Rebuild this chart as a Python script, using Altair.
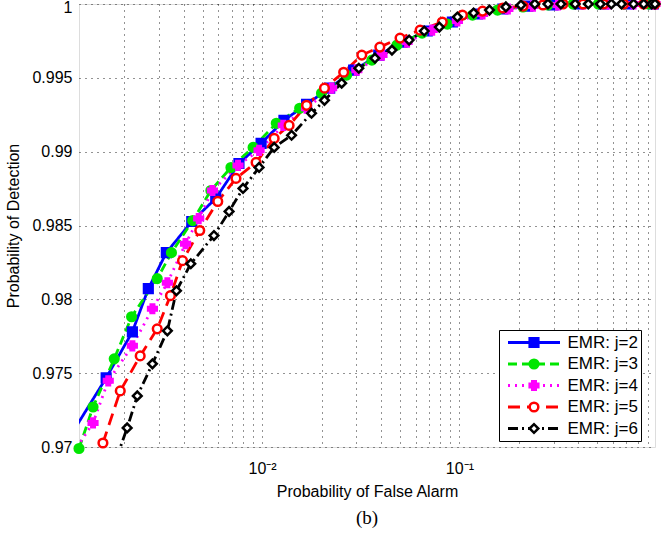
import altair as alt
import pandas as pd

# ---- data ----
SERIES = ["EMR: j=2", "EMR: j=3", "EMR: j=4", "EMR: j=5", "EMR: j=6"]

J2_X = [0.00105, 0.00162, 0.0022, 0.00265, 0.00327, 0.0044, 0.00582, 0.00763, 0.00988, 0.0129,
        0.0168, 0.022, 0.0291, 0.039, 0.0512, 0.0687, 0.0921, 0.1236, 0.166, 0.222,
        0.298, 0.40, 0.537, 0.719, 0.96]
J2_Y = [0.9706, 0.97468, 0.9778, 0.98072, 0.98316, 0.98527, 0.98683, 0.9892, 0.99056, 0.99212,
        0.99321, 0.9943, 0.99552, 0.99654, 0.99742, 0.99817, 0.99878, 0.99932, 0.99966, 0.99986,
        0.99993, 1.0, 1.0, 1.0, 1.0]

J3_X = [0.00118, 0.00139, 0.00178, 0.00218, 0.00294, 0.00347, 0.00445, 0.0055, 0.00695, 0.009,
        0.0118, 0.0155, 0.020, 0.0268, 0.036, 0.0483, 0.0647, 0.0869, 0.1165, 0.156,
        0.21, 0.281, 0.377, 0.506, 0.679, 0.91]
J3_Y = [0.9699, 0.97271, 0.97597, 0.97882, 0.9814, 0.98316, 0.98533, 0.98737, 0.98893, 0.99029,
        0.99192, 0.99294, 0.99396, 0.99518, 0.9962, 0.99722, 0.99803, 0.99864, 0.99925, 0.99959,
        0.9998, 0.99993, 1.0, 1.0, 1.0, 1.0]

J4_X = [0.00105, 0.00139, 0.00166, 0.0022, 0.00278, 0.00331, 0.00409, 0.00477, 0.0056, 0.00755,
        0.00965, 0.0128, 0.0168, 0.0225, 0.0302, 0.0405, 0.0543, 0.0728, 0.0977, 0.131,
        0.176, 0.236, 0.316, 0.424, 0.569, 0.763, 0.98]
J4_Y = [0.96918, 0.97163, 0.97448, 0.97685, 0.97936, 0.98112, 0.98377, 0.98547, 0.98737, 0.98907,
        0.99009, 0.99178, 0.99294, 0.9943, 0.99552, 0.99654, 0.99742, 0.99823, 0.99885, 0.99932,
        0.99966, 0.99986, 0.99993, 1.0, 1.0, 1.0, 1.0]

J5_X = [0.00146, 0.00156, 0.00191, 0.00241, 0.00294, 0.00343, 0.00395, 0.00483, 0.00596, 0.00737,
        0.00932, 0.01151, 0.0137, 0.0168, 0.0207, 0.0259, 0.032, 0.0395, 0.050, 0.0632,
        0.0819, 0.1036, 0.131, 0.166, 0.21, 0.265, 0.335, 0.424, 0.537, 0.679,
        0.859, 0.98]
J5_Y = [0.96904, 0.97027, 0.9738, 0.97617, 0.978, 0.98025, 0.98262, 0.98466, 0.98663, 0.98819,
        0.98927, 0.9909, 0.99178, 0.99314, 0.9943, 0.99538, 0.99654, 0.99708, 0.99769, 0.99823,
        0.99878, 0.99925, 0.99952, 0.99973, 0.99986, 0.99993, 1.0, 1.0, 1.0, 1.0,
        1.0, 1.0]

J6_X = [0.00182, 0.00207, 0.00233, 0.00278, 0.00331, 0.00368, 0.00435, 0.0057, 0.0068, 0.0080,
        0.00965, 0.01151, 0.0141, 0.0178, 0.0207, 0.0253, 0.0309, 0.0373, 0.0455, 0.0556,
        0.0663, 0.0791, 0.0977, 0.118, 0.142, 0.172, 0.205, 0.241, 0.281, 0.327,
        0.386, 0.45, 0.518, 0.589, 0.663, 0.763, 0.859, 0.943, 0.98]
J6_Y = [0.96918, 0.97129, 0.97346, 0.97563, 0.97787, 0.98058, 0.98241, 0.98432, 0.98595, 0.98751,
        0.98893, 0.99029, 0.99111, 0.9926, 0.99348, 0.99464, 0.99565, 0.99633, 0.99688, 0.99756,
        0.99817, 0.99844, 0.99912, 0.99939, 0.99959, 0.9998, 0.99993, 1.0, 1.0, 1.0,
        1.0, 1.0, 1.0, 1.0, 1.0, 1.0, 1.0, 1.0, 1.0]

Y_TICKS = [0.97, 0.975, 0.98, 0.985, 0.99, 0.995, 1.0]
X_GRID = [round(k * 10.0 ** e, 6) for e in (-3, -2, -1) for k in range(1, 10)]
X_GRID = [v for v in X_GRID if 0.00118 <= v <= 0.98]

# ---- styles ----
COLORS = ["#0000ff", "#00e600", "#ff00ff", "#ff0000", "#000000"]
FILLS = ["#0000ff", "#00e600", "#ff00ff", "#ffffff", "#ffffff"]
SHAPES = ["square", "circle", "cross", "circle", "diamond"]
DASHES = [[1, 0], [9, 5], [2, 5], [12, 7], [10, 4, 2, 4]]
FONT = "Liberation Sans"

rows = []
for name, xs, ys in zip(SERIES, [J2_X, J3_X, J4_X, J5_X, J6_X], [J2_Y, J3_Y, J4_Y, J5_Y, J6_Y]):
    for i, (xv, yv) in enumerate(zip(xs, ys)):
        rows.append({"x": xv, "y": yv, "series": name, "series_l": name, "idx": i})
df = pd.DataFrame(rows)

x_enc = alt.X(
    "x:Q",
    scale=alt.Scale(type="log", domain=[0.00118, 0.98], nice=False),
    axis=alt.Axis(
        values=X_GRID,
        labelExpr="datum.value == 0.01 ? '10\u207b\u00b2' : (datum.value == 0.1 ? '10\u207b\u00b9' : '')",
        grid=True, gridDash=[1, 5], gridColor="#000000", gridOpacity=0.85, gridWidth=1,
        ticks=False, tickSize=0, domain=False,
        labelFont=FONT, labelFontSize=16, labelColor="black", labelPadding=13,
        labelOverlap=False, labelFlush=False,
        title="Probability of False Alarm", titleFont=FONT, titleFontSize=16,
        titleFontWeight="normal", titleColor="black", titleX=288, titleY=44,
        titleBaseline="middle",
    ),
)
y_enc = alt.Y(
    "y:Q",
    scale=alt.Scale(domain=[0.97, 1.0], nice=False, zero=False),
    axis=alt.Axis(
        values=Y_TICKS, format="~g",
        grid=True, gridDash=[1, 5], gridColor="#000000", gridOpacity=0.85, gridWidth=1,
        ticks=False, tickSize=0, domain=False,
        labelFont=FONT, labelFontSize=16, labelColor="black", labelPadding=7,
        labelOffset=alt.ExprRef("datum.value == 1 ? 3 : 0"),
        title="Probability of Detection", titleFont=FONT, titleFontSize=16,
        titleFontWeight="normal", titleColor="black", titleX=-66, titleY=221.5,
        titleAngle=270, titleBaseline="middle",
    ),
)

leg_common = dict(
    title=None, orient="none", legendX=420, legendY=326, direction="vertical",
    clipHeight=19, rowPadding=2.5, padding=3,
    labelFont=FONT, labelFontSize=17, labelColor="black",
)
leg_line = alt.Legend(
    symbolType="stroke", symbolSize=2704, symbolStrokeWidth=2.8,
    symbolOffset=4.5, labelOffset=6, labelExpr="datum.label + '  '",
    fillColor="white", strokeColor="black", zindex=1, **leg_common,
)
leg_pt = alt.Legend(
    symbolSize=75, symbolStrokeWidth=2.5,
    symbolOffset=23.5, labelOffset=6, labelExpr="''",
    strokeColor="transparent", zindex=2, **leg_common,
)

base = alt.Chart(df)

lines = base.mark_line(clip=True, strokeWidth=2.8).encode(
    x=x_enc, y=y_enc,
    color=alt.Color("series_l:N", scale=alt.Scale(domain=SERIES, range=COLORS), legend=leg_line),
    strokeDash=alt.StrokeDash("series_l:N", scale=alt.Scale(domain=SERIES, range=DASHES), legend=leg_line),
    order="idx:Q",
)

# point-layer scales use the data domain (same sorted order) so that its legend stays separate
points = base.transform_filter(
    "datum.x >= 0.00117 && datum.y >= 0.9695"
).mark_point(size=75, strokeWidth=2.5, opacity=1).encode(
    x=x_enc, y=y_enc,
    stroke=alt.Stroke("series:N", scale=alt.Scale(range=COLORS), legend=leg_pt),
    fill=alt.Fill("series:N", scale=alt.Scale(range=FILLS), legend=leg_pt),
    shape=alt.Shape("series:N", scale=alt.Scale(range=SHAPES), legend=leg_pt),
)

chart = alt.layer(lines, points).properties(
    width=576, height=443,
    padding={"left": 79, "top": 4, "right": 15, "bottom": 101},
    autosize=alt.AutoSizeParams(type="none"),
    title=alt.TitleParams("(b)", orient="bottom", anchor="middle", font="Liberation Serif",
                          fontSize=19, fontWeight="normal", color="black", offset=10),
).configure_view(stroke="#1a1a1a", strokeWidth=1.2).configure(background="white")

chart.save("out.html", embed_options={"renderer": "svg", "actions": False})
